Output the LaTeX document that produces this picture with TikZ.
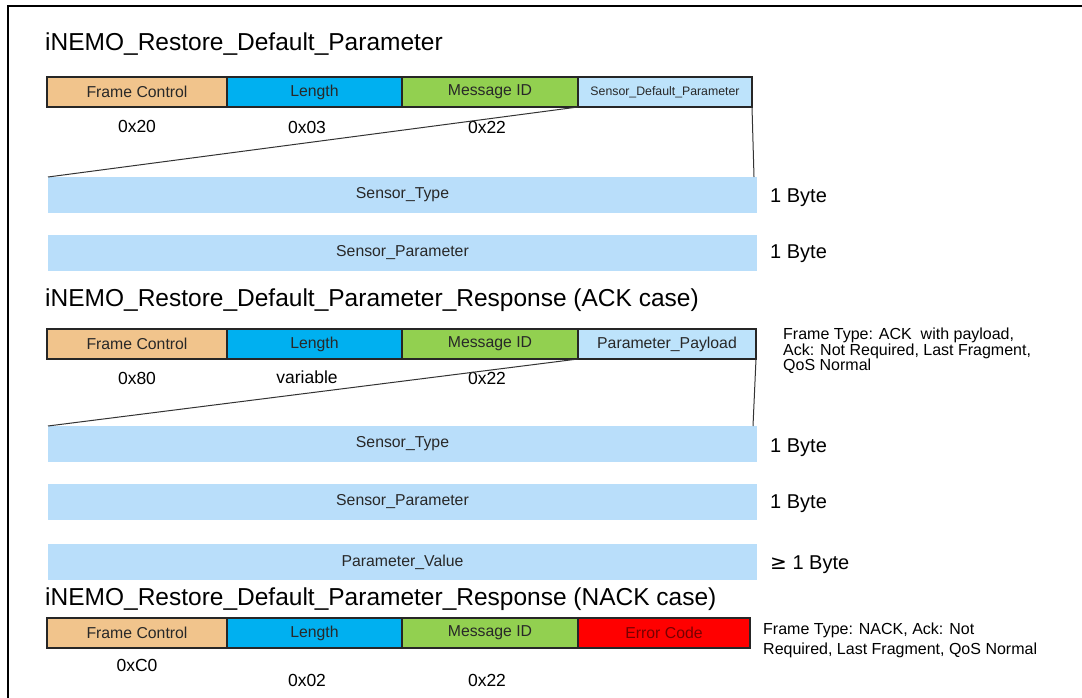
\documentclass[tikz,border=0pt]{standalone}
\usepackage{fontspec}
\setmainfont{Liberation Sans}
\newfontfamily\symfont{DejaVu Sans}
\definecolor{fcol}{RGB}{241,196,140}
\definecolor{lcol}{RGB}{0,176,240}
\definecolor{mcol}{RGB}{146,208,80}
\definecolor{pcol}{RGB}{189,227,251}
\definecolor{bcol}{RGB}{185,222,250}
\definecolor{ecol}{RGB}{255,0,0}
\definecolor{etxt}{RGB}{120,0,0}
\definecolor{txt}{RGB}{40,40,40}
\tikzset{
  field/.style={draw=black!85, line width=1.2pt, inner sep=0pt, outer sep=0pt,
    minimum height=30pt, text=txt, font=\fontsize{15.8}{18}\selectfont},
  bar/.style={fill=bcol, inner sep=0pt, outer sep=0pt, minimum height=36pt,
    minimum width=709pt, text=txt, font=\fontsize{15.8}{18}\selectfont},
  ttl/.style={anchor=west, inner sep=0pt, font=\fontsize{24.5}{28}\selectfont},
  val/.style={inner sep=0pt, font=\fontsize{17.5}{20}\selectfont},
  byte/.style={anchor=west, inner sep=0pt, font=\fontsize{20}{24}\selectfont},
  note/.style={anchor=north west, inner sep=0pt, align=left},
  conn/.style={draw=black!80, line width=1pt}
}
\begin{document}
\begin{tikzpicture}[x=1pt,y=-1pt]
\useasboundingbox (0,0) rectangle (1082,698);
\fill[white] (0,0) rectangle (1082,698);
\draw[line width=2pt] (8,698) -- (8,6) -- (1082,6);

% ---- Section 1
\node[ttl] (t1) at (45,44) {iNEMO\_Restore\_Default\_Parameter};
\node[field, fill=fcol, minimum width=180pt] (fc1) at (137,92) {Frame Control};
\node[field, fill=lcol, minimum width=175pt] (le1) at (314.5,92) {Length};
\node[field, fill=mcol, minimum width=176pt] (mi1) at (490,92) {Message ID};
\node[field, fill=pcol, minimum width=174pt, font=\fontsize{12.3}{14}\selectfont] (pl1) at (665,92) {Sensor\_Default\_Parameter};
\node[val] (v11) at (137,126) {0x20};
\node[val] (v12) at (307,127) {0x03};
\node[val] (v13) at (487,127) {0x22};
\node[bar] (b11) at (402.5,195) {Sensor\_Type};
\node[bar] (b12) at (402.5,253) {Sensor\_Parameter};
\node[byte] (y11) at (770,198) {1 Byte};
\node[byte] (y12) at (770,254) {1 Byte};
\draw[conn] (pl1.south west) -- (b11.north west);
\draw[conn] (pl1.south east) -- ([xshift=-3pt]b11.north east);

% ---- Section 2
\node[ttl] (t2) at (45,300) {iNEMO\_Restore\_Default\_Parameter\_Response (ACK case)};
\node[field, fill=fcol, minimum width=180pt] (fc2) at (137,344) {Frame Control};
\node[field, fill=lcol, minimum width=175pt] (le2) at (314.5,344) {Length};
\node[field, fill=mcol, minimum width=176pt] (mi2) at (490,344) {Message ID};
\node[field, fill=pcol, minimum width=178pt] (pl2) at (667,344) {Parameter\_Payload};
\node[val] (v21) at (137,378) {0x80};
\node[val] (v22) at (307,377) {variable};
\node[val] (v23) at (487,378) {0x22};
\node[note, font=\fontsize{16}{15.3}\selectfont] (n2) at (783,328) {Frame Type: ACK\ \ with payload,\\Ack: Not Required, Last Fragment,\\QoS Normal};
\node[bar] (b21) at (402.5,444) {Sensor\_Type};
\node[bar] (b22) at (402.5,502) {Sensor\_Parameter};
\node[bar] (b23) at (402.5,562) {Parameter\_Value};
\node[byte] (y21) at (770,448) {1 Byte};
\node[byte] (y22) at (770,504) {1 Byte};
\node[byte] (y23) at (770,565) {{\symfont ≥} 1 Byte};
\draw[conn] (pl2.south west) -- (b21.north west);
\draw[conn] (pl2.south east) -- ([xshift=-4pt]b21.north east);

% ---- Section 3
\node[ttl] (t3) at (45,599) {iNEMO\_Restore\_Default\_Parameter\_Response (NACK case)};
\node[field, fill=fcol, minimum width=180pt] (fc3) at (137,633) {Frame Control};
\node[field, fill=lcol, minimum width=175pt] (le3) at (314.5,633) {Length};
\node[field, fill=mcol, minimum width=176pt] (mi3) at (490,633) {Message ID};
\node[field, fill=ecol, minimum width=172pt, text=etxt] (pl3) at (664,633) {Error Code};
\node[val] (v31) at (137,665) {0xC0};
\node[val] (v32) at (307,680) {0x02};
\node[val] (v33) at (487,680) {0x22};
\node[note, font=\fontsize{16}{20}\selectfont] (n3) at (763,623) {Frame Type: NACK, Ack: Not\\Required, Last Fragment, QoS Normal};
\end{tikzpicture}
\end{document}
